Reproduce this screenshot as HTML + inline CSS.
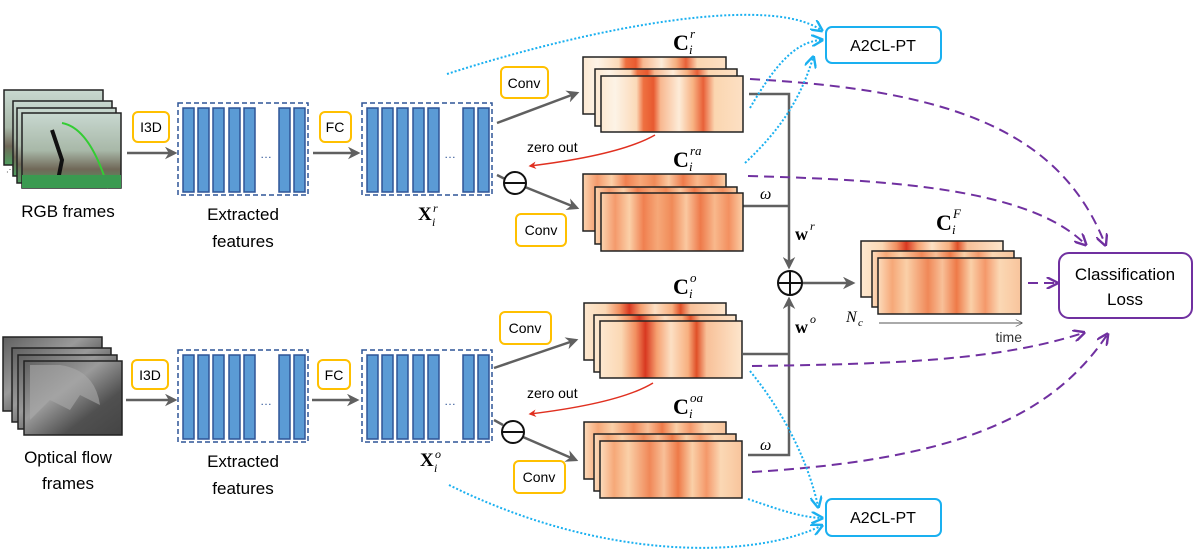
<!DOCTYPE html>
<html><head><meta charset="utf-8"><style>
html,body{margin:0;padding:0;background:#fff;}
svg text{font-family:"Liberation Sans",sans-serif;}
svg .m text, svg text.m{font-family:"Liberation Serif",serif;}
</style></head><body>
<svg width="1196" height="554" viewBox="0 0 1196 554" xmlns="http://www.w3.org/2000/svg">
<defs>
<marker id="ag" viewBox="0 0 10 10" refX="8" refY="5" markerWidth="5" markerHeight="5" orient="auto"><path d="M0,0 L10,5 L0,10 L3,5z" fill="#606060"/></marker>
<marker id="ar" viewBox="0 0 10 10" refX="8" refY="5" markerWidth="5" markerHeight="5" orient="auto"><path d="M0,0 L10,5 L0,10 L3,5z" fill="#e03020"/></marker>
<marker id="ap" viewBox="0 0 10 10" refX="8" refY="5" markerWidth="6" markerHeight="6" orient="auto"><path d="M0,0 L10,5 L0,10" fill="none" stroke="#7030a0" stroke-width="2"/></marker>
<marker id="ac" viewBox="0 0 10 10" refX="8" refY="5" markerWidth="6" markerHeight="6" orient="auto"><path d="M0,0 L10,5 L0,10" fill="none" stroke="#1ab0f0" stroke-width="2"/></marker>
<marker id="at" viewBox="0 0 10 10" refX="9" refY="5" markerWidth="7" markerHeight="7" orient="auto"><path d="M0,0 L10,5 L0,10" fill="none" stroke="#555" stroke-width="1"/></marker>
<linearGradient id="h1"><stop offset="0" stop-color="#fde9d2"/><stop offset=".1" stop-color="#fdf3e6"/><stop offset=".25" stop-color="#fbd9b8"/><stop offset=".3" stop-color="#ee7040"/><stop offset=".37" stop-color="#e85a30"/><stop offset=".42" stop-color="#f8b890"/><stop offset=".55" stop-color="#fdecd8"/><stop offset=".65" stop-color="#f7b080"/><stop offset=".72" stop-color="#e86038"/><stop offset=".8" stop-color="#fbd6b0"/><stop offset="1" stop-color="#fce0c4"/></linearGradient>
<linearGradient id="h2"><stop offset="0" stop-color="#fbd4b0"/><stop offset=".1" stop-color="#f49a6c"/><stop offset=".2" stop-color="#fbd0a8"/><stop offset=".3" stop-color="#f08050"/><stop offset=".4" stop-color="#f6a878"/><stop offset=".5" stop-color="#f08a58"/><stop offset=".6" stop-color="#fac8a0"/><stop offset=".7" stop-color="#ee7a4a"/><stop offset=".8" stop-color="#f8b88c"/><stop offset=".9" stop-color="#f39060"/><stop offset="1" stop-color="#fbd0a8"/></linearGradient>
<linearGradient id="h3"><stop offset="0" stop-color="#fde8d0"/><stop offset=".15" stop-color="#fbd8b4"/><stop offset=".25" stop-color="#f29060"/><stop offset=".32" stop-color="#d83820"/><stop offset=".4" stop-color="#f6a070"/><stop offset=".5" stop-color="#fce0c4"/><stop offset=".62" stop-color="#f8b080"/><stop offset=".68" stop-color="#e05028"/><stop offset=".75" stop-color="#f8c098"/><stop offset="1" stop-color="#fde6cc"/></linearGradient>
<linearGradient id="h4"><stop offset="0" stop-color="#fcdcbc"/><stop offset=".1" stop-color="#f6a878"/><stop offset=".2" stop-color="#fad0a8"/><stop offset=".35" stop-color="#f08858"/><stop offset=".45" stop-color="#f8c098"/><stop offset=".55" stop-color="#ee7a48"/><stop offset=".65" stop-color="#fad0a8"/><stop offset=".75" stop-color="#f4986a"/><stop offset=".85" stop-color="#fbd8b4"/><stop offset="1" stop-color="#f8c49c"/></linearGradient>
<linearGradient id="rgb" x1="0" y1="0" x2="0" y2="1"><stop offset="0" stop-color="#c8d8d0"/><stop offset=".5" stop-color="#a8b8a8"/><stop offset=".75" stop-color="#706858"/><stop offset="1" stop-color="#50a060"/></linearGradient>
<linearGradient id="flo" x1="0" y1="0" x2="1" y2="1"><stop offset="0" stop-color="#606060"/><stop offset=".4" stop-color="#9a9a9a"/><stop offset=".7" stop-color="#505050"/><stop offset="1" stop-color="#444"/></linearGradient>
</defs>

<g stroke="#222" stroke-width="1.5">
<rect x="4" y="90" width="99" height="75" fill="url(#rgb)"/>
<rect x="13" y="101" width="99" height="75" fill="url(#rgb)"/>
<rect x="17" y="108" width="99" height="75" fill="url(#rgb)"/>
<rect x="22" y="113" width="99" height="75" fill="url(#rgb)"/>
</g>
<path d="M62,123 Q90,128 108,188" stroke="#3c3" stroke-width="2" fill="none"/>
<path d="M52,130 L62,160 L58,180" stroke="#111" stroke-width="4" fill="none"/>
<rect x="22" y="175" width="99" height="13" fill="#3a9a50"/>
<text x="6" y="172" font-size="8" fill="#333">⋰</text>
<text x="68" y="217" font-size="17" text-anchor="middle">RGB frames</text>

<g stroke="#222" stroke-width="1.5">
<rect x="3" y="337" width="99" height="74" fill="url(#flo)"/>
<rect x="12" y="348" width="99" height="74" fill="url(#flo)"/>
<rect x="18" y="355" width="99" height="74" fill="url(#flo)"/>
<rect x="24" y="361" width="98" height="74" fill="url(#flo)"/>
</g>
<path d="M60,365 Q95,370 100,405 L80,395 L70,410 L50,400 L30,420 L30,365Z" fill="#aaa" opacity=".6"/>
<text x="68" y="463" font-size="17" text-anchor="middle">Optical flow</text>
<text x="68" y="489" font-size="17" text-anchor="middle">frames</text>

<g id="blk">
<rect x="178" y="103" width="130" height="92" fill="none" stroke="#2f5597" stroke-width="1.5" stroke-dasharray="5,3"/>
<g fill="#5b9bd5" stroke="#2f5597" stroke-width="1.5">
<rect x="183" y="108" width="11" height="84"/><rect x="198" y="108" width="11" height="84"/><rect x="213" y="108" width="11" height="84"/><rect x="229" y="108" width="11" height="84"/><rect x="244" y="108" width="11" height="84"/><rect x="279" y="108" width="11" height="84"/><rect x="294" y="108" width="11" height="84"/>
</g>
<text x="266" y="158" font-size="12" text-anchor="middle" fill="#2f5597">…</text>
</g>
<use href="#blk" x="184" y="0"/>
<use href="#blk" x="0" y="247"/>
<use href="#blk" x="184" y="247"/>
<text x="243" y="220" font-size="17" text-anchor="middle">Extracted</text>
<text x="243" y="247" font-size="17" text-anchor="middle">features</text>
<text x="243" y="467" font-size="17" text-anchor="middle">Extracted</text>
<text x="243" y="494" font-size="17" text-anchor="middle">features</text>
<text x="418" y="220" font-size="19" class="m" font-weight="bold">X</text><text x="433" y="212" font-size="12" class="m" font-style="italic">r</text><text x="432" y="226" font-size="12" class="m" font-style="italic">i</text>
<text x="420" y="466" font-size="19" class="m" font-weight="bold">X</text><text x="435" y="458" font-size="12" class="m" font-style="italic">o</text><text x="434" y="472" font-size="12" class="m" font-style="italic">i</text>

<g fill="#fff" stroke="#ffc000" stroke-width="2">
<rect x="133" y="112" width="36" height="30" rx="5"/><rect x="320" y="112" width="31" height="30" rx="5"/>
<rect x="132" y="360" width="36" height="29" rx="5"/><rect x="318" y="360" width="32" height="29" rx="5"/>
<rect x="501" y="67" width="47" height="31" rx="5"/><rect x="516" y="214" width="50" height="32" rx="5"/>
<rect x="500" y="312" width="51" height="32" rx="5"/><rect x="514" y="461" width="51" height="32" rx="5"/>
</g>
<g font-size="14" text-anchor="middle">
<text x="151" y="132">I3D</text><text x="335" y="132">FC</text>
<text x="150" y="380">I3D</text><text x="334" y="380">FC</text>
<text x="524" y="88">Conv</text><text x="541" y="235">Conv</text>
<text x="525" y="333">Conv</text><text x="539" y="482">Conv</text>
</g>

<g stroke="#606060" stroke-width="2.5" fill="none" marker-end="url(#ag)">
<path d="M127,153 L175,153"/><path d="M313,153 L358,153"/>
<path d="M126,400 L175,400"/><path d="M312,400 L357,400"/>
<path d="M497,123 L577,93"/><path d="M525,187 L577,208"/>
<path d="M494,368 L576,340"/><path d="M523,437 L576,460"/>
<path d="M749,94 L789,94 L789,267"/>
<path d="M748,455 L789,455 L789,299"/>
<path d="M802,283 L853,283"/>
</g>
<g stroke="#606060" stroke-width="2.5" fill="none">
<path d="M497,175 L505,179"/><path d="M743,206 L789,206"/>
<path d="M494,420 L503,425"/><path d="M743,354 L789,354"/>
</g>
<circle cx="515" cy="183" r="11" fill="#fff" stroke="#111" stroke-width="2"/><line x1="504" y1="183" x2="526" y2="183" stroke="#111" stroke-width="2"/>
<circle cx="513" cy="432" r="11" fill="#fff" stroke="#111" stroke-width="2"/><line x1="502" y1="432" x2="524" y2="432" stroke="#111" stroke-width="2"/>
<circle cx="790" cy="283" r="12" fill="#fff" stroke="#111" stroke-width="2"/><path d="M778,283 H802 M790,271 V295" stroke="#111" stroke-width="2"/>

<path d="M655,135 Q620,155 530,166" stroke="#e03020" stroke-width="1.5" fill="none" marker-end="url(#ar)"/>
<path d="M653,383 Q620,403 530,414" stroke="#e03020" stroke-width="1.5" fill="none" marker-end="url(#ar)"/>
<text x="527" y="152" font-size="14">zero out</text>
<text x="527" y="398" font-size="14">zero out</text>

<g stroke="#222" stroke-width="1.5">
<rect x="583" y="57" width="143" height="57" fill="url(#h1)"/><rect x="595" y="69" width="142" height="57" fill="url(#h1)"/><rect x="601" y="76" width="142" height="56" fill="url(#h1)"/>
<rect x="583" y="174" width="143" height="57" fill="url(#h2)"/><rect x="595" y="187" width="142" height="57" fill="url(#h2)"/><rect x="601" y="193" width="142" height="58" fill="url(#h2)"/>
<rect x="584" y="303" width="142" height="57" fill="url(#h3)"/><rect x="594" y="315" width="142" height="57" fill="url(#h3)"/><rect x="600" y="321" width="142" height="57" fill="url(#h3)"/>
<rect x="584" y="422" width="142" height="57" fill="url(#h4)"/><rect x="594" y="434" width="142" height="57" fill="url(#h4)"/><rect x="600" y="441" width="142" height="57" fill="url(#h4)"/>
<rect x="861" y="241" width="142" height="56" fill="url(#h3)"/><rect x="872" y="251" width="142" height="56" fill="url(#h4)"/><rect x="878" y="258" width="143" height="56" fill="url(#h4)"/>
</g>
<g class="m" font-weight="bold" font-size="22">
<text x="673" y="50">C</text><text x="673" y="167">C</text><text x="673" y="294">C</text><text x="673" y="414">C</text><text x="936" y="230">C</text>
</g>
<g class="m" font-style="italic" font-size="13">
<text x="690" y="38">r</text><text x="689" y="54">i</text>
<text x="690" y="155">ra</text><text x="689" y="171">i</text>
<text x="690" y="282">o</text><text x="689" y="298">i</text>
<text x="690" y="402">oa</text><text x="689" y="418">i</text>
<text x="953" y="218">F</text><text x="952" y="234">i</text>
</g>
<text x="760" y="199" font-size="16" class="m" font-style="italic">ω</text>
<text x="760" y="450" font-size="16" class="m" font-style="italic">ω</text>
<text x="795" y="240" font-size="18" class="m" font-weight="bold">w</text><text x="810" y="230" font-size="12" class="m" font-style="italic">r</text>
<text x="795" y="333" font-size="18" class="m" font-weight="bold">w</text><text x="810" y="323" font-size="12" class="m" font-style="italic">o</text>
<text x="846" y="322" font-size="16" class="m" font-style="italic">N</text><text x="858" y="326" font-size="11" class="m" font-style="italic">c</text>
<path d="M879,323 L1022,323" stroke="#555" stroke-width="1" marker-end="url(#at)"/>
<text x="1022" y="342" font-size="14" text-anchor="end" fill="#333">time</text>

<rect x="826" y="27" width="115" height="36" rx="6" fill="#fff" stroke="#1ab0f0" stroke-width="2"/>
<text x="883" y="51" font-size="16" text-anchor="middle">A2CL-PT</text>
<rect x="826" y="499" width="115" height="37" rx="6" fill="#fff" stroke="#1ab0f0" stroke-width="2"/>
<text x="883" y="523" font-size="16" text-anchor="middle">A2CL-PT</text>
<rect x="1059" y="253" width="133" height="65" rx="10" fill="#fff" stroke="#7030a0" stroke-width="2"/>
<text x="1125" y="280" font-size="17" text-anchor="middle">Classification</text>
<text x="1125" y="305" font-size="17" text-anchor="middle">Loss</text>

<g stroke="#7030a0" stroke-width="2" fill="none" stroke-dasharray="10,6" marker-end="url(#ap)">
<path d="M750,79 C950,90 1060,130 1105,244"/>
<path d="M748,176 C900,180 1030,190 1085,244"/>
<path d="M1028,283 L1056,283"/>
<path d="M752,366 C900,364 1000,360 1083,333"/>
<path d="M752,472 C950,460 1050,420 1107,335"/>
</g>
<g stroke="#1ab0f0" stroke-width="2" fill="none" stroke-dasharray="2,2" marker-end="url(#ac)">
<path d="M447,74 C600,25 770,-5 821,30"/>
<path d="M750,108 C775,65 795,42 821,40"/>
<path d="M745,163 C780,130 800,100 813,58"/>
<path d="M750,371 C790,420 810,470 818,506"/>
<path d="M748,499 C780,510 800,517 821,518"/>
<path d="M449,485 C600,560 750,560 821,526"/>
</g>
</svg>
</body></html>
